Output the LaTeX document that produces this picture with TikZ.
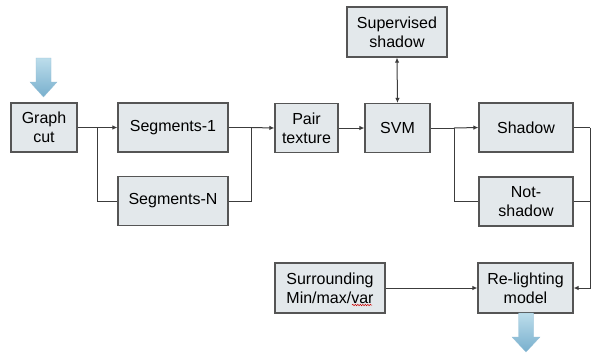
\documentclass[tikz,border=0pt]{standalone}
\usepackage{fontspec}
\setmainfont{Liberation Sans}
\usetikzlibrary{arrows.meta,calc,decorations.pathmorphing}
\definecolor{boxfill}{HTML}{E3E8EB}
\definecolor{boxline}{HTML}{555555}
\definecolor{lineclr}{HTML}{3C3C3C}
\definecolor{arrtop}{HTML}{BCDDEB}
\definecolor{arrbot}{HTML}{78AFCD}
\begin{document}
\begin{tikzpicture}[x=1pt,y=-1pt,
  blk/.style={draw=boxline,line width=1.2pt,fill=boxfill,align=center,
    font=\fontsize{16}{19}\selectfont,inner sep=0pt},
  conn/.style={draw=lineclr,line width=1pt},
  tip/.style={-{Latex[length=5pt,width=4.5pt]}}]
\useasboundingbox (0,0) rectangle (592,360);
\fill[white] (0,0) rectangle (592,360);
% boxes
\node[blk,minimum width=66pt,minimum height=49pt] (graph) at (44,127.5) {Graph\\cut};
\node[blk,minimum width=110pt,minimum height=49pt] (seg1) at (173,127.5) {Segments-1};
\node[blk,minimum width=110pt,minimum height=49pt] (segN) at (173,201) {Segments-N};
\node[blk,minimum width=63pt,minimum height=49pt] (pair) at (306.5,128) {Pair\\texture};
\node[blk,minimum width=65pt,minimum height=49pt] (svm) at (397.5,128) {SVM};
\node[blk,minimum width=100pt,minimum height=50pt] (sup) at (397,32) {Supervised\\shadow};
\node[blk,minimum width=94pt,minimum height=49pt] (shadow) at (526,127.5) {Shadow};
\node[blk,minimum width=94pt,minimum height=49pt] (notsh) at (526,201.5) {Not-\\shadow};
\node[blk,minimum width=95pt,minimum height=50pt] (relight) at (525.5,288) {Re-lighting\\model};
\node[blk,minimum width=110pt,minimum height=50pt] (surr) at (330,288) {Surrounding\\Min/max/var};
% coordinates
\coordinate (b1) at (97,127.5);
\coordinate (m1) at (251,127.5);
\coordinate (b2) at (454,128);
\coordinate (r1) at (590,127.5);
% connectors
\draw[conn] (graph.east) -- (b1);
\draw[conn,tip] (b1) -- (seg1.west);
\draw[conn] (b1) |- (segN.west);
\draw[conn] (seg1.east) -- (m1);
\draw[conn] (segN.east) -| (m1);
\draw[conn,tip] (m1) -- (pair.west);
\draw[conn,tip] (pair.east) -- (svm.west);
\draw[conn,{Latex[length=5pt,width=4.5pt]}-{Latex[length=5pt,width=4.5pt]}] (sup.south) -- (svm.north);
\draw[conn] (svm.east) -- (b2);
\draw[conn,tip] (b2) -- (shadow.west);
\draw[conn] (b2) |- (notsh.west);
\draw[conn] (shadow.east) -- (r1);
\draw[conn] (notsh.east) -- (notsh.east -| r1);
\draw[conn,tip] (r1) |- (relight.east);
\draw[conn,tip] (surr.east) -- (relight.west);
% spell-check squiggle under "var"
\draw[red!80!black,line width=0.5pt,decorate,decoration={snake,amplitude=0.7pt,segment length=2.5pt}] (352,305) -- (372,305);
% blue block arrows
\shade[top color=arrtop,bottom color=arrbot,draw=arrbot!80,line width=0.3pt]
  (36,58) -- (51,58) -- (51,82) -- (57,82) -- (43.5,97) -- (30,82) -- (36,82) -- cycle;
\shade[top color=arrtop,bottom color=arrbot,draw=arrbot!80,line width=0.3pt]
  (518.5,313) -- (533.5,313) -- (533.5,337) -- (540,337) -- (526,352) -- (512,337) -- (518.5,337) -- cycle;
\end{tikzpicture}
\end{document}
